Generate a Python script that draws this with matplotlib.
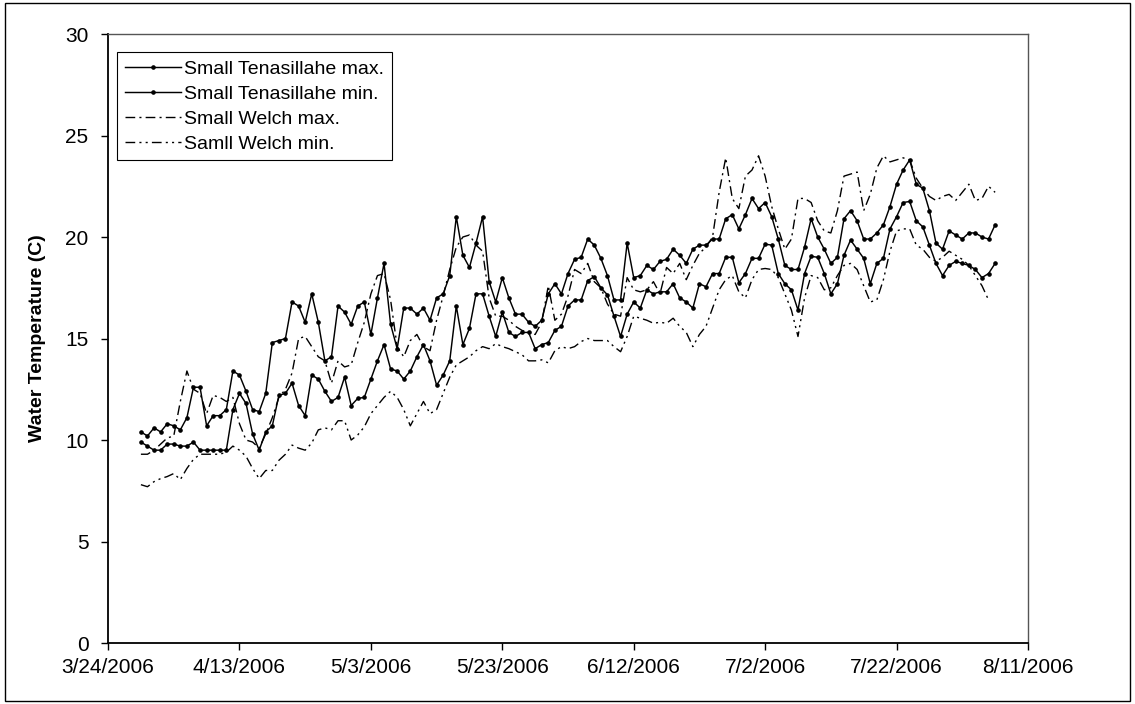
import datetime as dt
import numpy as np
import matplotlib
matplotlib.use('Agg')
import matplotlib.pyplot as plt
from matplotlib.patches import Rectangle

plt.rcParams['font.family'] = ['Liberation Sans', 'DejaVu Sans']

# daily readings, 3/29/2006 .. 8/6/2006
first_day = dt.date(2006, 3, 29)
n_days = 131
dates = [first_day + dt.timedelta(days=k) for k in range(n_days)]

st_max = [10.4, 10.2, 10.6, 10.4, 10.8, 10.7, 10.5, 11.1, 12.6, 12.6,
          10.7, 11.2, 11.2, 11.5, 13.4, 13.2, 12.4, 11.5, 11.4, 12.3,
          14.8, 14.9, 15.0, 16.8, 16.6, 15.8, 17.2, 15.8, 13.9, 14.1,
          16.6, 16.3, 15.7, 16.6, 16.8, 15.2, 17.0, 18.7, 15.7, 14.5,
          16.5, 16.5, 16.2, 16.5, 15.9, 17.0, 17.2, 18.1, 21.0, 19.1,
          18.5, 19.7, 21.0, 17.8, 16.8, 18.0, 17.0, 16.2, 16.2, 15.8,
          15.6, 15.9, 17.2, 17.7, 17.2, 18.2, 18.9, 19.0, 19.9, 19.6,
          18.95, 18.1, 16.9, 16.9, 19.7, 18.0, 18.1, 18.6, 18.4, 18.8,
          18.9, 19.4, 19.1, 18.7, 19.4, 19.6, 19.6, 19.9, 19.9, 20.9,
          21.1, 20.4, 21.1, 21.9, 21.4, 21.7, 21.0, 19.9, 18.6, 18.4,
          18.4, 19.5, 20.9, 20.0, 19.4, 18.7, 19.0, 20.9, 21.3, 20.8,
          19.9, 19.9, 20.2, 20.6, 21.5, 22.6, 23.3, 23.8, 22.6, 22.4,
          21.3, 19.7, 19.4, 20.3, 20.1, 19.9, 20.2, 20.2, 20.0, 19.9,
          20.6]

st_min = [9.9, 9.7, 9.5, 9.5, 9.8, 9.8, 9.7, 9.7, 9.9, 9.5,
          9.5, 9.5, 9.5, 9.5, 11.5, 12.3, 11.8, 10.3, 9.5, 10.4,
          10.7, 12.2, 12.3, 12.8, 11.7, 11.2, 13.2, 13.0, 12.4, 11.9,
          12.1, 13.1, 11.7, 12.05, 12.1, 13.0, 13.9, 14.7, 13.5, 13.4,
          13.0, 13.4, 14.1, 14.7, 13.9, 12.7, 13.2, 13.9, 16.6, 14.7,
          15.5, 17.2, 17.2, 16.1, 15.1, 16.3, 15.3, 15.1, 15.3, 15.3,
          14.5, 14.7, 14.8, 15.4, 15.6, 16.6, 16.9, 16.9, 17.85, 18.05,
          17.5, 17.15, 16.1, 15.1, 16.2, 16.8, 16.5, 17.4, 17.2, 17.3,
          17.3, 17.7, 17.0, 16.8, 16.5, 17.7, 17.55, 18.2, 18.2, 19.0,
          19.0, 17.75, 18.2, 18.95, 18.95, 19.65, 19.6, 18.2, 17.7, 17.4,
          16.4, 18.2, 19.05, 19.0, 18.2, 17.2, 17.7, 19.1, 19.85, 19.4,
          18.95, 17.7, 18.7, 18.95, 20.4, 21.0, 21.7, 21.75, 20.8, 20.5,
          19.6, 18.7, 18.1, 18.6, 18.8, 18.7, 18.6, 18.4, 18.0, 18.2,
          18.7]

welch_max = [9.3, 9.3, 9.5, 9.8, 10.1, 10.2, 11.9, 13.4, 12.5, 12.3,
             11.3, 12.2, 12.1, 11.9, 12.1, 10.8, 10.0, 9.9, 9.6, 10.3,
             11.1, 12.1, 12.5, 13.3, 15.0, 15.1, 14.6, 14.1, 13.9, 12.8,
             13.9, 13.6, 13.7, 14.8, 15.8, 17.2, 18.1, 18.2, 16.9, 14.6,
             14.1, 14.9, 15.2, 14.6, 14.4, 15.9, 17.1, 18.4, 19.5, 20.0,
             20.1, 19.6, 19.3, 17.0, 16.1, 16.1, 15.9, 15.6, 15.4, 15.3,
             15.2, 15.8, 17.6, 15.9, 16.2, 17.1, 18.4, 18.2, 18.7, 17.8,
             17.5, 16.7, 16.2, 16.1, 18.0, 17.4, 17.3, 17.4, 17.8, 17.2,
             18.5, 18.2, 18.7, 17.9, 18.6, 19.2, 19.5, 20.0, 22.2, 23.9,
             21.9, 21.4, 23.0, 23.3, 24.0, 23.0, 21.5, 20.4, 19.4, 19.9,
             21.9, 21.9, 21.7, 20.8, 20.3, 20.2, 21.3, 23.0, 23.1, 23.2,
             21.3, 22.1, 23.4, 24.0, 23.7, 23.8, 23.9, 23.8, 22.9, 22.4,
             22.0, 21.8, 22.0, 22.1, 21.8, 22.2, 22.6, 21.8, 21.9, 22.5,
             22.2]

welch_min = [7.8, 7.7, 7.95, 8.1, 8.2, 8.35, 8.05, 8.6, 9.05, 9.3,
             9.3, 9.3, 9.3, 9.4, 9.7, 9.5, 9.2, 8.6, 8.1, 8.5,
             8.5, 9.0, 9.3, 9.75, 9.6, 9.5, 9.85, 10.5, 10.6, 10.5,
             10.95, 10.95, 10.0, 10.25, 10.65, 11.3, 11.7, 12.1, 12.4, 12.1,
             11.5, 10.7, 11.3, 11.9, 11.3, 11.5, 12.3, 13.1, 13.7, 13.9,
             14.1, 14.4, 14.6, 14.5, 14.75, 14.6, 14.5, 14.35, 14.2, 13.9,
             13.9, 13.95, 13.8, 14.4, 14.6, 14.5, 14.6, 14.85, 15.0, 14.9,
             14.9, 14.9, 14.6, 14.35, 15.1, 16.1, 16.0, 15.9, 15.75, 15.8,
             15.75, 16.0, 15.6, 15.3, 14.6, 15.2, 15.6, 16.5, 17.4, 17.9,
             18.1, 17.3, 17.0, 17.9, 18.4, 18.45, 18.4, 18.0, 17.2, 16.4,
             15.1, 17.0, 18.1, 18.0, 17.4, 17.5, 18.1, 18.6, 18.7, 18.4,
             17.6, 16.8, 16.9, 17.9, 19.3, 20.3, 20.4, 20.4, 19.6, 19.4,
             19.0, 18.8, 19.0, 19.3, 19.1, 18.9, 18.6, 18.1, 17.6, 16.9,
             np.nan]

labels = ['Small Tenasillahe max.', 'Small Tenasillahe min.',
          'Small Welch max.', 'Samll Welch min.']

axis_start = dt.date(2006, 3, 24)
tick_dates = [axis_start + dt.timedelta(days=20 * k) for k in range(8)]
y_ticks = [0, 5, 10, 15, 20, 25, 30]

fig = plt.figure(figsize=(11.35, 7.04), dpi=100)
ax = fig.add_axes([0.0952, 0.0866, 0.8105, 0.8651])

ax.plot(dates, st_max, color='black', lw=1.05, marker='o', ms=2.3,
        label=labels[0])
ax.plot(dates, st_min, color='black', lw=1.05, marker='o', ms=2.3,
        label=labels[1])
ax.plot(dates, welch_max, color='black', lw=1.0,
        linestyle=(0, (7, 3, 1.5, 3)), label=labels[2])
ax.plot(dates, welch_min, color='black', lw=1.0,
        linestyle=(0, (7, 3, 1.5, 3, 1.5, 3)), label=labels[3])

ax.set_xlim(tick_dates[0], tick_dates[-1])
ax.set_ylim(0, 30)
ax.set_xticks(tick_dates)
ax.set_xticklabels([f"{d.month}/{d.day}/{d.year}" for d in tick_dates])
ax.set_yticks(y_ticks)
ax.tick_params(axis='both', direction='out', length=5, width=1,
               labelsize=15, pad=6)
ax.tick_params(axis='y', pad=9)

ax.set_ylabel('Water Temperature (C)', fontsize=14, fontweight='bold',
              labelpad=14)

for side in ['left', 'bottom']:
    ax.spines[side].set_linewidth(1.3)
    ax.spines[side].set_color('black')
for side in ['top', 'right']:
    ax.spines[side].set_linewidth(1.0)
    ax.spines[side].set_color('#555555')

leg = ax.legend(loc='upper left', bbox_to_anchor=(0.01, 0.97),
                borderaxespad=0, fontsize=14, frameon=True, fancybox=False,
                framealpha=1, edgecolor='black', handlelength=2.9,
                handletextpad=0.15, labelspacing=0.38, borderpad=0.4)
leg.get_frame().set_linewidth(0.8)
for h in leg.get_lines():
    h.set_markevery([1])

fig.patches.append(Rectangle((0.004, 0.004), 0.992, 0.992,
                             transform=fig.transFigure, fill=False,
                             edgecolor='black', linewidth=1.0))

fig.savefig('out.png', dpi=100)
